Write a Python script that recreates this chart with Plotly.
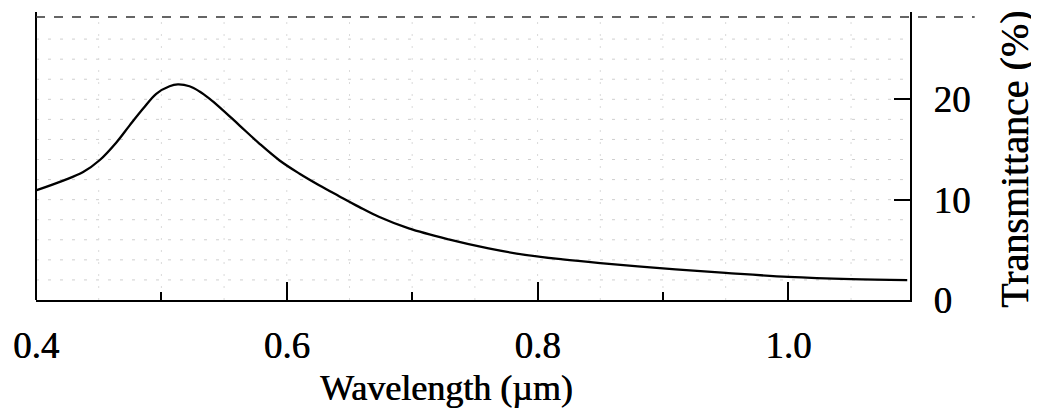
import numpy as np
import plotly.graph_objects as go

# Data
wavelength_um = [0.4006, 0.4217, 0.4376, 0.4509, 0.4641, 0.4747, 0.4853, 0.4959, 0.5065,
                 0.5131, 0.5224, 0.5304, 0.5383, 0.5463, 0.5622, 0.5781, 0.5940, 0.6099,
                 0.6258, 0.6417, 0.6576, 0.6734, 0.6973, 0.7291, 0.7609, 0.7900, 0.8200,
                 0.8500, 0.8800, 0.9100, 0.9500, 1.0000, 1.0500, 1.0948]
transmittance_pct = [10.95, 11.90, 12.75, 13.95, 15.70, 17.40, 19.05, 20.55, 21.30,
                     21.48, 21.30, 20.78, 20.07, 19.23, 17.41, 15.59, 13.93, 12.61,
                     11.44, 10.35, 9.28, 8.29, 7.13, 6.04, 5.14, 4.50, 4.05,
                     3.68, 3.35, 3.05, 2.70, 2.30, 2.08, 1.99]

x_tick_vals = [0.4, 0.6, 0.8, 1.0]
x_tick_text = ["0.4", "0.6", "0.8", "1.0"]
x_minor_vals = [0.5, 0.7, 0.9]
y_tick_vals = [0, 10, 20]
y_tick_text = ["0", "10", "20"]

FONT = "Liberation Serif"
SHADOW = "0.6px 0px 0px black"
X_RANGE = [0.4, 1.097]
Y_RANGE = [0, 28.7]

fig = go.Figure()
fig.add_trace(go.Scatter(
    x=wavelength_um, y=transmittance_pct, mode="lines",
    line=dict(color="black", width=2.3, shape="spline", smoothing=1.0),
    showlegend=False, hoverinfo="skip",
))

# faint, broken background grid (scan texture of the original figure)
shapes = []
for gy in np.arange(2, 28, 2):
    shapes.append(dict(type="line", xref="x", yref="y", x0=X_RANGE[0], x1=X_RANGE[1],
                       y0=gy, y1=gy, layer="below",
                       line=dict(color="#cfcfcf", width=1, dash="3px,9px")))
for gx in np.arange(0.45, 1.09, 0.05):
    shapes.append(dict(type="line", xref="x", yref="y", x0=gx, x1=gx,
                       y0=Y_RANGE[0], y1=Y_RANGE[1], layer="below",
                       line=dict(color="#dadada", width=1, dash="2px,10px")))
# left frame line
shapes.append(dict(type="line", xref="paper", yref="paper", x0=0, x1=0, y0=0, y1=1,
                   line=dict(color="black", width=2)))
# dashed top rule
shapes.append(dict(type="line", xref="paper", yref="y", x0=0, x1=1.074, y0=28.2, y1=28.2,
                   line=dict(color="#333333", width=1.5, dash="dash")))

# page body has an 8px margin, so the figure is 8px smaller than the window
fig.update_layout(
    width=1031, height=409,
    margin=dict(l=28, r=129, t=4, b=117),
    paper_bgcolor="white", plot_bgcolor="white",
    font=dict(family=FONT, color="black", size=37),
    xaxis=dict(
        range=X_RANGE, showgrid=False, zeroline=False, automargin=False,
        showline=True, linecolor="black", linewidth=2, mirror=False,
        tickvals=x_tick_vals, ticktext=x_tick_text,
        ticks="inside", ticklen=18, tickwidth=2, tickcolor="black",
        minor=dict(tickvals=x_minor_vals, ticks="inside", ticklen=8,
                   tickwidth=2, tickcolor="black", showgrid=False),
        tickfont=dict(family=FONT, size=37, color="black", shadow=SHADOW),
        ticklabelstandoff=12,
    ),
    yaxis=dict(
        range=Y_RANGE, side="right", showgrid=False, zeroline=False, automargin=False,
        showline=True, linecolor="black", linewidth=2,
        tickvals=y_tick_vals, ticktext=y_tick_text,
        ticks="inside", ticklen=16, tickwidth=2, tickcolor="black",
        tickfont=dict(family=FONT, size=37, color="black", shadow=SHADOW),
        ticklabelstandoff=14,
    ),
    shapes=shapes,
    annotations=[
        dict(text="Wavelength (\u00b5m)", xref="paper", yref="paper",
             x=0.470, y=-0.306, xanchor="center", yanchor="middle",
             showarrow=False, font=dict(family=FONT, size=36, color="black", shadow=SHADOW)),
        dict(text="Transmittance (%)", xref="paper", yref="paper",
             x=1.119, y=0.486, xanchor="center", yanchor="middle", textangle=-90,
             showarrow=False, font=dict(family=FONT, size=40, color="black", shadow=SHADOW)),
    ],
)

fig.write_html("out.html")
